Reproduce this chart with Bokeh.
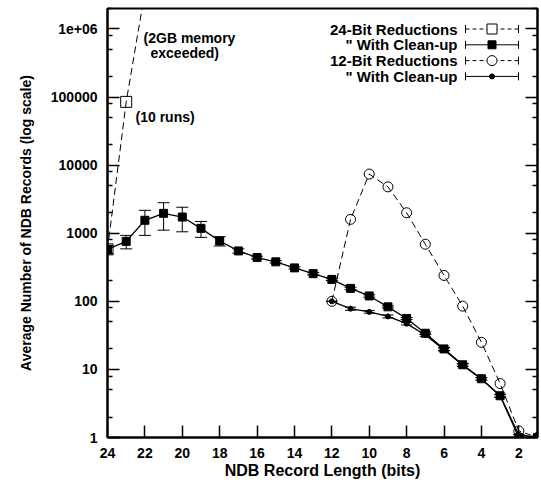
from bokeh.plotting import figure
from bokeh.models import (Range1d, FixedTicker, LogAxis, CustomJSTickFormatter, Whisker,
                          TeeHead, ColumnDataSource, Label, LinearScale)
from bokeh.core.properties import value
from bokeh.embed import file_html
from bokeh.resources import INLINE

# ---------------- data ----------------
bits_24 = [24, 23, 22, 21, 20, 19, 18, 17, 16, 15, 14, 13, 12, 11, 10, 9, 8, 7, 6, 5, 4, 3, 2, 1]
red24_bits = [24, 23, 22]
red24_vals = [580, 85000, 3.5e6]
clean24_vals = [580, 760, 1550, 1960, 1730, 1180, 770, 550, 440, 380, 310, 255,
                210, 155, 120, 83, 56, 34, 20, 11.7, 7.3, 4.1, 1.0, 1.0]
clean24_err = [80, 170, 620, 850, 680, 310, 120, 40, 20, 15, 12, 10,
               8, 6, 5, 3, 2, 1.5, 1, 0.5, 0.3, 0.2, 0, 0]

bits_12 = [12, 11, 10, 9, 8, 7, 6, 5, 4, 3, 2, 1]
red12_vals = [100, 1600, 7400, 4800, 2000, 690, 240, 85, 25, 6.2, 1.25, 1.0]
clean12_vals = [100, 78, 70, 60, 47, 32, 19.5, 11.5, 7.2, 4.1, 1.1, 1.0]
clean12_err = [0, 4, 3, 3, 2, 1.5, 1, 0.5, 0.3, 0.2, 0, 0]

x_ticks = [24, 22, 20, 18, 16, 14, 12, 10, 8, 6, 4, 2]
y_ticks = [1, 10, 100, 1000, 10000, 100000, 1000000]
y_tick_labels = ["1", "10", "100", "1000", "10000", "100000", "1e+06"]
minor_mults = [2, 5, 8]

legend_labels = ["24-Bit Reductions", '" With Clean-up', "12-Bit Reductions", '" With Clean-up']

x_title = "NDB Record Length (bits)"
y_title = "Average Number of NDB Records (log scale)"

FONT = value("Liberation Sans")

# ---------------- figure ----------------
p = figure(width=541, height=487, x_range=Range1d(24, 1), y_range=Range1d(1, 2e6),
           y_axis_type="log", output_backend="svg", toolbar_location=None,
           min_border_left=107, min_border_right=4, min_border_top=8, min_border_bottom=50)
p.background_fill_color = "white"
p.border_fill_color = "white"
p.outline_line_color = "black"
p.outline_line_width = 2
p.xgrid.visible = False
p.ygrid.visible = False

y_minor = [m * t for t in y_ticks for m in minor_mults]
yticker = FixedTicker(ticks=y_ticks, minor_ticks=y_minor)

xa = p.xaxis[0]
xa.ticker = FixedTicker(ticks=x_ticks)
ya = p.yaxis[0]
ya.ticker = yticker
ya.major_label_overrides = {t: l for t, l in zip(y_ticks, y_tick_labels)}

for ax in (xa, ya):
    ax.axis_line_color = "black"
    ax.axis_line_width = 2
    ax.major_tick_in = 12
    ax.major_tick_out = 0
    ax.minor_tick_in = 5
    ax.minor_tick_out = 0
    ax.major_tick_line_width = 1.5
    ax.minor_tick_line_width = 1.5
    ax.major_label_text_font = "Liberation Sans"
    ax.major_label_text_font_style = "bold"
    ax.major_label_text_font_size = "14px"
    ax.major_label_text_color = "black"
    ax.axis_label_text_font = "Liberation Sans"
    ax.axis_label_text_font_style = "bold"
    ax.axis_label_text_color = "black"

xa.minor_tick_line_color = None
xa.major_label_standoff = 10
xa.axis_label = x_title
xa.axis_label_text_font_size = "16px"
xa.axis_label_standoff = 1

ya.major_label_standoff = 10
ya.axis_label = y_title
ya.axis_label_text_font_size = "14px"
ya.axis_label_standoff = 14

ra = LogAxis(ticker=yticker, formatter=CustomJSTickFormatter(code="return ''"),
             major_tick_in=12, major_tick_out=0, minor_tick_in=5, minor_tick_out=0,
             major_label_standoff=0, axis_line_width=2,
             major_tick_line_width=1.5, minor_tick_line_width=1.5)
p.add_layout(ra, "right")

# ---------------- series ----------------
src24 = ColumnDataSource(dict(x=bits_24, y=clean24_vals,
                              up=[v + e for v, e in zip(clean24_vals, clean24_err)],
                              lo=[v - e for v, e in zip(clean24_vals, clean24_err)]))
src12 = ColumnDataSource(dict(x=bits_12, y=clean12_vals,
                              up=[v + e for v, e in zip(clean12_vals, clean12_err)],
                              lo=[v - e for v, e in zip(clean12_vals, clean12_err)]))

# 12-bit reductions (dashed, open circles)
p.line(bits_12, red12_vals, line_color="black", line_width=1, line_dash="7 4")
p.scatter(bits_12, red12_vals, marker="circle", size=10, fill_color=None,
          line_color="black", line_width=1)

# 24-bit reductions (dashed, open squares)
p.line(red24_bits, red24_vals, line_color="black", line_width=1, line_dash="7 4")
p.scatter(red24_bits, red24_vals, marker="square", size=11, fill_color=None,
          line_color="black", line_width=1)

# 12-bit with clean-up
p.add_layout(Whisker(source=src12, base="x", upper="up", lower="lo", line_color="black",
                     line_width=1,
                     upper_head=TeeHead(size=11, line_color="black", line_width=1),
                     lower_head=TeeHead(size=11, line_color="black", line_width=1)))
p.line("x", "y", source=src12, line_color="black", line_width=1.3)
p.scatter("x", "y", source=src12, marker="circle", size=5, fill_color="black",
          line_color="black")

# 24-bit with clean-up
p.add_layout(Whisker(source=src24, base="x", upper="up", lower="lo", line_color="black",
                     line_width=1,
                     upper_head=TeeHead(size=12, line_color="black", line_width=1),
                     lower_head=TeeHead(size=12, line_color="black", line_width=1)))
p.line("x", "y", source=src24, line_color="black", line_width=1.3)
p.scatter("x", "y", source=src24, marker="square", size=8, fill_color="black",
          line_color="black")

# ---------------- notes ----------------
for txt, xx, yy in [("(2GB memory", 22.07, 7.4e5), ("exceeded)", 21.7, 4.4e5),
                    ("(10 runs)", 22.5, 5.1e4)]:
    p.add_layout(Label(x=xx, y=yy, text=txt, text_font="Liberation Sans",
                       text_font_style="bold", text_font_size="14px",
                       text_baseline="middle", text_align="left", text_color="black"))

# ---------------- legend (frame-pixel coordinates) ----------------
p.extra_x_ranges = {"px": Range1d(0, 430)}
p.extra_y_ranges = {"py": Range1d(0, 429)}
p.extra_x_scales = {"px": LinearScale()}
p.extra_y_scales = {"py": LinearScale()}

rows = [408.5 - 15.8 * i for i in range(len(legend_labels))]
text_x = 350
s0, s1, sm = 358, 411, 384.5
for r, lab in zip(rows, legend_labels):
    p.add_layout(Label(x=text_x, y=r, text=lab, x_range_name="px", y_range_name="py",
                       text_align="right", text_baseline="middle",
                       text_font="Liberation Sans", text_font_style="bold",
                       text_font_size="15px", text_color="black"))
dashes = ["4 3", "solid", "4 3", "solid"]
markers = [("square", 10, None), ("square", 8, "black"), ("circle", 10, None), ("circle", 5, "black")]
for r, d, (mk, sz, fc) in zip(rows, dashes, markers):
    p.segment(x0=[s0], y0=[r], x1=[s1], y1=[r], x_range_name="px", y_range_name="py",
              line_color="black", line_width=1, line_dash=d)
    p.segment(x0=[s0, s1], y0=[r - 4, r - 4], x1=[s0, s1], y1=[r + 4, r + 4],
              x_range_name="px", y_range_name="py", line_color="black", line_width=1)
    p.scatter(x=[sm], y=[r], x_range_name="px", y_range_name="py", marker=mk, size=sz,
              fill_color=fc if fc else "white", line_color="black", line_width=1)

open("out.html", "w").write(file_html(p, INLINE))
